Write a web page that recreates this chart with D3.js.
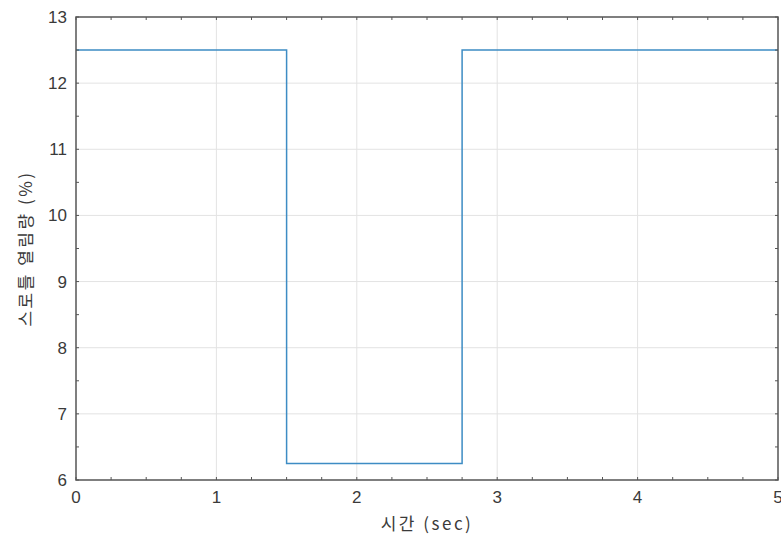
<!DOCTYPE html>
<html>
<head>
<meta charset="utf-8">
<script src="https://cdn.jsdelivr.net/npm/d3@7"></script>
<style>
  body { margin: 0; background: #fff; }
  svg { display: block; font-family: "Liberation Sans", Arial, sans-serif; }
</style>
</head>
<body>
<div id="chart"></div>
<script>
// step data: time (sec) and throttle opening (%)
const timeSec = [0, 1.5, 1.5, 2.75, 2.75, 5];
const throttle = [12.5, 12.5, 6.25, 6.25, 12.5, 12.5];
const xTicks = [0, 1, 2, 3, 4, 5];
const yTicks = [6, 7, 8, 9, 10, 11, 12, 13];
const xLabel = '시간 (sec)';
const yLabel = '스로틀 열림량 (%)';

const width = 781, height = 538;
const margin = {left: 76, right: 3, top: 17, bottom: 58};

const svg = d3.select('#chart').append('svg')
    .attr('width', width)
    .attr('height', height);

const xScale = d3.scaleLinear().domain([0, 5]).range([margin.left, width - margin.right]);
const yScale = d3.scaleLinear().domain([6, 13]).range([height - margin.bottom, margin.top]);

const x0 = xScale(0), x1 = xScale(5), y0 = yScale(6), y1 = yScale(13);

// grid
const grid = svg.append('g').attr('class', 'grid');
grid.selectAll('line.gx').data(xTicks.slice(1, -1)).join('line')
    .attr('x1', d => xScale(d)).attr('x2', d => xScale(d))
    .attr('y1', y1).attr('y2', y0)
    .style('stroke', '#e3e3e3').style('stroke-width', 1);
grid.selectAll('line.gy').data(yTicks.slice(1, -1)).join('line')
    .attr('x1', x0).attr('x2', x1)
    .attr('y1', d => yScale(d)).attr('y2', d => yScale(d))
    .style('stroke', '#e3e3e3').style('stroke-width', 1);

// data line
const line = d3.line().x((d, i) => xScale(timeSec[i])).y(d => yScale(d));
svg.append('path')
    .datum(throttle)
    .attr('d', line)
    .style('fill', 'none')
    .style('stroke', '#3d8cc4')
    .style('stroke-width', 1.5);

// axes with inward ticks (major + minor)
const axisColor = '#555';
const xMinor = d3.range(0, 5.001, 0.25);
const yMinor = d3.range(6, 13.001, 0.5);
const ticks = svg.append('g').style('stroke', axisColor).style('stroke-width', 1);
xMinor.forEach(v => {
    const len = 3;
    ticks.append('line').attr('x1', xScale(v)).attr('x2', xScale(v)).attr('y1', y0).attr('y2', y0 - len);
    ticks.append('line').attr('x1', xScale(v)).attr('x2', xScale(v)).attr('y1', y1).attr('y2', y1 + len);
});
yMinor.forEach(v => {
    const len = 3;
    ticks.append('line').attr('y1', yScale(v)).attr('y2', yScale(v)).attr('x1', x0).attr('x2', x0 + len);
    ticks.append('line').attr('y1', yScale(v)).attr('y2', yScale(v)).attr('x1', x1).attr('x2', x1 - len);
});

// box
svg.append('rect')
    .attr('x', x0).attr('y', y1)
    .attr('width', x1 - x0).attr('height', y0 - y1)
    .style('fill', 'none')
    .style('stroke', axisColor)
    .style('stroke-width', 1.5);

// tick labels
svg.append('g').selectAll('text').data(xTicks).join('text')
    .attr('x', d => xScale(d))
    .attr('y', y0 + 23)
    .attr('text-anchor', 'middle')
    .style('font-size', '17px')
    .style('fill', '#3a3a3a')
    .text(d => d);
svg.append('g').selectAll('text').data(yTicks).join('text')
    .attr('x', x0 - 9)
    .attr('y', d => yScale(d) + 6)
    .attr('text-anchor', 'end')
    .style('font-size', '17px')
    .style('fill', '#3a3a3a')
    .text(d => d);

// axis labels
svg.append('text')
    .attr('x', (x0 + x1) / 2)
    .attr('y', y0 + 50)
    .attr('text-anchor', 'middle')
    .style('font-size', '17px')
    .style('letter-spacing', '2.5px')
    .style('fill', '#3a3a3a')
    .style('font-family', '"Noto Sans CJK KR", sans-serif')
    .text(xLabel);
svg.append('text')
    .attr('transform', 'translate(' + 32 + ',' + (y0 + y1) / 2 + ') rotate(-90)')
    .attr('text-anchor', 'middle')
    .style('font-size', '17px')
    .style('letter-spacing', '2.5px')
    .style('fill', '#3a3a3a')
    .style('font-family', '"Noto Sans CJK KR", sans-serif')
    .text(yLabel);
</script>
</body>
</html>
